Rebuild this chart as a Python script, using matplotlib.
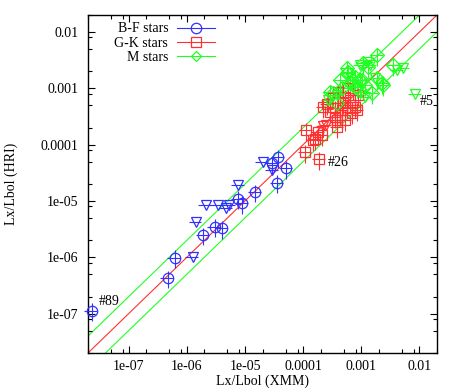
import numpy as np
import matplotlib
matplotlib.use("Agg")
import matplotlib.pyplot as plt
from matplotlib.lines import Line2D
from matplotlib.ticker import LogLocator, FixedLocator, FixedFormatter, NullFormatter

plt.rcParams['font.family'] = ['Liberation Serif', 'DejaVu Serif']

# B-F stars (detections)
bf_x = [2.3e-8, 4.7e-7, 6.2e-7, 1.9e-6, 3.0e-6, 4.0e-6, 7.6e-6, 8.9e-6, 1.5e-5,
        3.6e-5, 2.9e-5, 3.7e-5, 5.1e-5]
bf_y = [1.13e-7, 4.3e-7, 9.8e-7, 2.5e-6, 3.5e-6, 3.3e-6, 1.1e-5, 9.2e-6, 1.45e-5,
        2.1e-5, 4.7e-5, 6.0e-5, 3.8e-5]
# B-F stars (HRI upper limits)
bf_ul_x = [1.26e-6, 1.43e-6, 2.1e-6, 3.4e-6, 4.7e-6, 5.3e-6, 7.6e-6, 2.0e-5, 2.9e-5]
bf_ul_y = [1.0e-6, 4.3e-6, 8.5e-6, 8.5e-6, 7.6e-6, 8.5e-6, 1.9e-5, 4.9e-5, 3.5e-5]

# G-K stars
gk_x = [1.13e-4, 1.08e-4, 1.89e-4, 1.82e-4, 1.61e-4, 2.13e-4, 1.49e-4, 3.86e-4, 3.86e-4,
        2.21e-4, 3.56e-4, 3.56e-4, 4.70e-4, 5.74e-4, 7.89e-4, 8.53e-4, 3.29e-4, 4.01e-4,
        5.30e-4, 6.46e-4, 8.87e-4, 4.35e-4, 5.30e-4, 2.92e-4, 7.00e-4, 4.90e-4, 5.97e-4,
        2.59e-4]
gk_y = [1.81e-4, 7.4e-5, 5.5e-5, 1.66e-4, 1.25e-4, 1.47e-4, 1.20e-4, 2.04e-4, 2.72e-4,
        4.61e-4, 4.43e-4, 3.07e-4, 4.08e-4, 4.61e-4, 4.61e-4, 4.08e-4, 6.65e-4, 8.49e-4,
        6.94e-4, 6.14e-4, 7.52e-4, 3.33e-4, 2.72e-4, 3.76e-4, 3.61e-4, 5.43e-4, 1.0e-3,
        5.21e-4]
gk_ul_x = [2.21e-4, 2.45e-4]
gk_ul_y = [2.1e-4, 2.2e-4]

# M stars
m_x = [1.89e-3, 3.56e-3, 2.39e-3, 1.89e-3, 1.17e-3, 1.55e-3, 5.74e-4, 6.46e-4, 4.35e-4,
       4.70e-4, 2.92e-4, 3.29e-4, 7.89e-4, 9.62e-4, 8.53e-4, 5.74e-4, 1.08e-3, 1.32e-3,
       9.62e-4, 7.00e-4, 2.30e-3, 3.86e-4, 5.97e-4, 1.04e-3, 7.89e-4]
m_y = [3.84e-3, 2.55e-3, 1.13e-3, 1.50e-3, 1.13e-3, 8.17e-4, 1.84e-3, 1.22e-3, 1.39e-3,
       1.0e-3, 8.49e-4, 8.17e-4, 1.57e-3, 1.39e-3, 1.04e-3, 2.26e-3, 2.77e-3, 2.36e-3,
       9.23e-4, 1.39e-3, 1.22e-3, 5.43e-4, 1.92e-3, 1.39e-3, 1.04e-3]
m_ul_x = [1.27e-3, 1.43e-3, 4.18e-3, 5.30e-3, 8.53e-3, 1.17e-3, 2.70e-4, 3.86e-4, 9.62e-4,
          1.75e-3]
m_ul_y = [2.88e-3, 2.55e-3, 2.08e-3, 2.26e-3, 7.8e-4, 6.94e-4, 6.14e-4, 7.52e-4, 2.55e-3,
          1.50e-3]

xerr_frac = 0.25
yerr_frac = 0.35

lim = (2e-8, 0.02)
ref = np.array(lim)

blue, red, green = '#3030ff', '#ff3030', '#20ff20'

fig = plt.figure(figsize=(4.58, 3.92), dpi=100)
ax = fig.add_axes([88/458, 1-353/392, 349/458, 338/392])
ax.set_xscale('log')
ax.set_yscale('log')
ax.set_xlim(*lim)
ax.set_ylim(*lim)

# reference lines: equality and factor of 2
ax.plot(ref, ref, color=red, lw=0.8, zorder=1)
ax.plot(ref, 2*ref, color=green, lw=0.8, zorder=1)
ax.plot(ref, ref/2, color=green, lw=0.8, zorder=1)

def unclip(cont):
    for art in cont.get_children():
        art.set_clip_on(False)

def det(x, y, color, marker):
    x = np.array(x); y = np.array(y)
    c = ax.errorbar(x, y, xerr=xerr_frac*x, yerr=yerr_frac*y, fmt=marker, mfc='none',
                    mec=color, ecolor=color, ms=7.5, mew=0.9, elinewidth=0.8, capsize=0,
                    zorder=3)
    unclip(c)

def ul(x, y, color):
    x = np.array(x); y = np.array(y)
    c = ax.errorbar(x, y, xerr=xerr_frac*x, fmt='v', mfc='none', mec=color, ecolor=color,
                    ms=7.5, mew=0.9, elinewidth=0.8, capsize=0, zorder=3)
    unclip(c)

det(bf_x, bf_y, blue, 'o')
ul(bf_ul_x, bf_ul_y, blue)
det(gk_x, gk_y, red, 's')
ul(gk_ul_x, gk_ul_y, red)
det(m_x, m_y, green, 'D')
ul(m_ul_x, m_ul_y, green)

ax.annotate('#89', (bf_x[0], bf_y[0]), xytext=(5, 4), textcoords='offset points', fontsize=10)
ax.annotate('#26', (gk_x[2], gk_y[2]), xytext=(6, -5), textcoords='offset points', fontsize=10)
ax.annotate('#5', (m_ul_x[4], m_ul_y[4]), xytext=(3, -8), textcoords='offset points', fontsize=10)

majors = [1e-7, 1e-6, 1e-5, 1e-4, 1e-3, 1e-2]
labels = ['1e-07', '1e-06', '1e-05', '0.0001', '0.001', '0.01']
for axis in (ax.xaxis, ax.yaxis):
    axis.set_major_locator(FixedLocator(majors))
    axis.set_major_formatter(FixedFormatter(labels))
    axis.set_minor_locator(LogLocator(base=10, subs=[2, 5, 8]))
    axis.set_minor_formatter(NullFormatter())
ax.tick_params(which='both', direction='in', top=True, right=True, labelsize=10,
               width=0.8)
ax.tick_params(axis='x', which='both', pad=5)
ax.tick_params(axis='y', which='both', pad=7)
ax.tick_params(which='major', length=5)
ax.tick_params(which='minor', length=3)
for s in ax.spines.values():
    s.set_linewidth(1.0)

ax.set_xlabel('Lx/Lbol (XMM)', fontsize=10, labelpad=1)
ax.set_ylabel('Lx/Lbol (HRI)', fontsize=10, labelpad=16)

handles = [Line2D([], [], color=blue, lw=0.8, marker='o', mfc='none', ms=7.5, mew=0.9),
           Line2D([], [], color=red, lw=0.8, marker='s', mfc='none', ms=7.5, mew=0.9),
           Line2D([], [], color=green, lw=0.8, marker='D', mfc='none', ms=5.5, mew=0.9)]
leg = ax.legend(handles, ['B-F stars', 'G-K stars', 'M stars'], loc='upper left',
                bbox_to_anchor=(0.04, 1.015), frameon=False, markerfirst=False,
                fontsize=10, handlelength=2.8, handletextpad=0.6, labelspacing=0.1)

fig.savefig('out.png', dpi=100)
